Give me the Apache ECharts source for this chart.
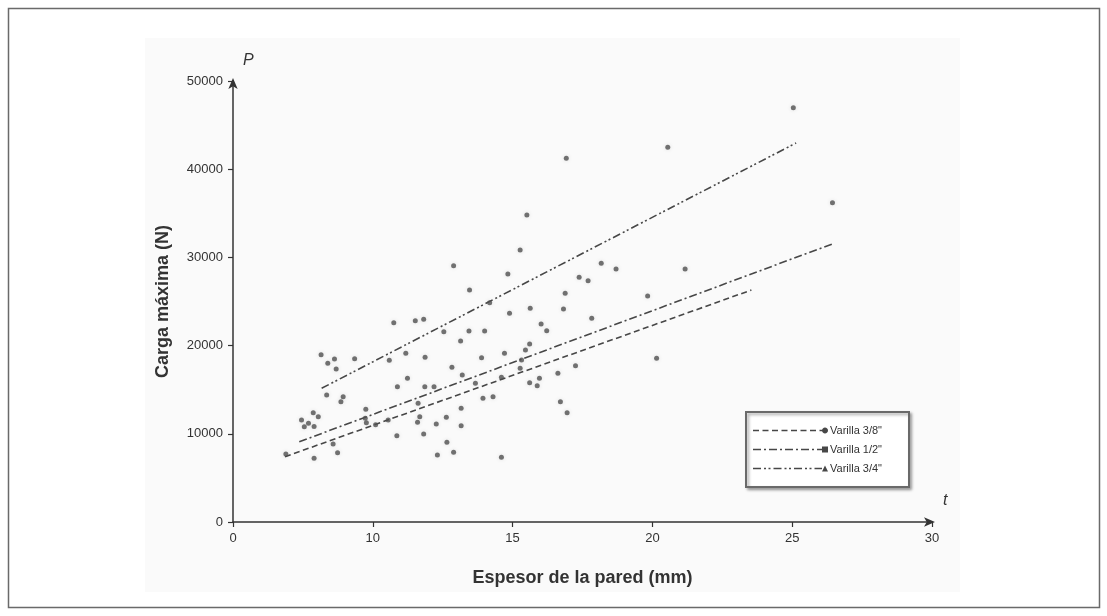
<!DOCTYPE html>
<html>
<head>
<meta charset="utf-8">
<script src="https://cdn.jsdelivr.net/npm/echarts@6/dist/echarts.min.js"></script>
<style>
html,body{margin:0;padding:0;background:#fff;}
#chart{width:1107px;height:616px;}
</style>
</head>
<body>
<div id="chart"></div>
<script>
// ---- Data (x values on the drawn axis scale, where the first tick is labelled "0") ----
const xTickValues = [5, 10, 15, 20, 25, 30];
const xTickLabels = ['0', '10', '15', '20', '25', '30'];
const yTickLabels = ['0', '10000', '20000', '30000', '40000', '50000'];

const pointT = [25.04, 26.44, 20.55, 16.92, 15.51, 15.27, 12.89, 14.83, 17.38, 17.70,
  18.17, 18.70, 21.17, 16.88, 19.83, 20.15, 10.75, 11.52, 11.82, 12.54,
  11.18, 11.87, 10.59, 8.15, 8.63, 8.39, 9.35, 8.69, 11.24, 10.88,
  13.46, 14.18, 14.89, 13.44, 14.00, 13.14, 14.71, 13.89, 12.83, 8.35,
  8.94, 8.86, 9.75, 7.87, 8.05, 7.45, 7.55, 7.70, 7.90, 10.55,
  9.77, 10.10, 10.86, 11.60, 11.68, 11.82, 12.27, 12.63, 13.16, 13.16,
  12.65, 12.31, 12.89, 14.60, 7.90, 8.74, 8.58, 6.89, 14.30, 13.94,
  13.67, 9.73, 11.62, 15.63, 16.82, 17.83, 16.02, 16.22, 15.61, 15.46,
  15.32, 14.60, 13.20, 15.61, 15.96, 17.25, 16.62, 15.88, 15.27, 16.71,
  16.95, 11.86, 12.19];
const pointP = [46970, 36200, 42480, 41240, 34810, 30840, 29060, 28120, 27740, 27360,
  29330, 28690, 28690, 25930, 25620, 18560, 22600, 22820, 22980, 21580,
  19130, 18670, 18330, 18970, 18480, 17990, 18520, 17350, 16290, 15340,
  26300, 24860, 23660, 21660, 21660, 20520, 19130, 18630, 17540, 14400,
  14210, 13640, 12780, 12390, 11940, 11560, 10800, 11200, 10840, 11570,
  11260, 11040, 9790, 11300, 11940, 9980, 11110, 11870, 10920, 12890,
  9040, 7600, 7900, 7340, 7220, 7860, 8840, 7710, 14210, 14020,
  15730, 11760, 13460, 24230, 24150, 23100, 22450, 21690, 20180, 19500,
  18370, 16410, 16670, 15790, 16290, 17720, 16860, 15450, 17430, 13640,
  12390, 15340, 15340];

const seriesNames = ['Varilla 3/8"', 'Varilla 1/2"', 'Varilla 3/4"'];
const fitT38 = [6.86, 23.54];
const fitP38 = [7400, 26300];
const fitT12 = [7.37, 26.43];
const fitP12 = [9100, 31520];
const fitT34 = [8.17, 25.14];
const fitP34 = [15160, 42970];

// ---- Helpers ----
const ink = '#474747';
function zip(a, b) { return a.map((v, i) => [v, b[i]]); }

// legend icon: dash pattern + marker at the right end, as a filled path (75 x 6 box)
function legendPath(pattern, marker) {
  const end = 69, y0 = 3.25, y1 = 4.75;
  let d = '';
  let x = 0, i = 0;
  while (x < end) {
    const len = pattern[i % pattern.length];
    const on = i % 2 === 0;
    const x2 = Math.min(end, x + len);
    if (on && x2 > x) d += `M${x},${y0}L${x2},${y0}L${x2},${y1}L${x},${y1}Z`;
    x += len; i++;
  }
  if (marker === 'circle') {
    let p = '';
    for (let k = 0; k < 16; k++) {
      const a = k / 16 * Math.PI * 2;
      p += (k === 0 ? 'M' : 'L') + (72 + 3 * Math.cos(a)).toFixed(2) + ',' + (4 + 3 * Math.sin(a)).toFixed(2);
    }
    d += p + 'Z';
  } else if (marker === 'square') {
    d += 'M69,1L75,1L75,7L69,7Z';
  } else {
    d += 'M72,1L75,7L69,7Z';
  }
  d += 'M0,1L0.01,1L0.01,1.01Z';
  return 'path://' + d;
}

const dash38 = [6, 3.5];
const dash12 = [8, 3, 2, 3];
const dash34 = [8, 3, 2, 2.5, 2, 3];

const chart = echarts.init(document.getElementById('chart'), null, { renderer: 'canvas' });

function fitSeries(name, ts, ps, dash) {
  return {
    name: name,
    type: 'line',
    data: zip(ts, ps),
    symbol: 'none',
    silent: true,
    z: 3,
    itemStyle: { color: ink },
    lineStyle: { color: ink, width: 1.6, type: dash }
  };
}

const option = {
  backgroundColor: '#ffffff',
  animation: false,
  textStyle: { fontFamily: 'Liberation Sans, Arial, sans-serif' },
  graphic: [
    { type: 'rect', z: -10, shape: { x: 8.5, y: 8.5, width: 1091, height: 599 },
      style: { fill: '#ffffff', stroke: '#6a6a6a', lineWidth: 1.5 } },
    { type: 'rect', z: -9, shape: { x: 145, y: 38, width: 815, height: 554 },
      style: { fill: '#fafafa', stroke: null } },
    { type: 'text', left: 243, top: 53, z: 10,
      style: { text: 'P', fill: '#333', font: 'italic 16px "Liberation Sans", Arial, sans-serif' } },
    { type: 'text', left: 943, top: 493, z: 10,
      style: { text: 't', fill: '#333', font: 'italic 16px "Liberation Sans", Arial, sans-serif' } }
  ],
  grid: { left: 233, top: 81, right: 175, bottom: 94, containLabel: false },
  legend: {
    orient: 'vertical',
    left: 746,
    top: 412,
    padding: [13, 27, 13, 7],
    itemGap: 8,
    itemWidth: 75,
    itemHeight: 6,
    backgroundColor: '#ffffff',
    borderColor: '#6a6a6a',
    borderWidth: 2,
    borderRadius: 0,
    shadowBlur: 3,
    shadowColor: 'rgba(0,0,0,0.35)',
    shadowOffsetX: 2,
    shadowOffsetY: 2,
    selectedMode: false,
    itemStyle: { color: ink, borderWidth: 0 },
    textStyle: { fontSize: 11, color: '#333', padding: [0, 0, 0, -3] },
    data: [
      { name: seriesNames[0], icon: legendPath(dash38, 'circle') },
      { name: seriesNames[1], icon: legendPath(dash12, 'square') },
      { name: seriesNames[2], icon: legendPath(dash34, 'triangle') }
    ]
  },
  xAxis: {
    type: 'value',
    min: 5,
    max: 30,
    interval: 5,
    name: 'Espesor de la pared (mm)',
    nameLocation: 'middle',
    nameGap: 47,
    nameTextStyle: { fontSize: 18, fontWeight: 'bold', color: '#333' },
    axisLine: { show: true, onZero: false, symbol: ['none', 'arrow'], symbolSize: [7, 11], symbolOffset: [0, 3],
      lineStyle: { color: '#333', width: 1.5 } },
    axisTick: { show: true, inside: false, length: 5, lineStyle: { color: '#333', width: 1.2 } },
    axisLabel: { margin: 10, fontSize: 13, color: '#333',
      formatter: v => { const i = xTickValues.indexOf(v); return i >= 0 ? xTickLabels[i] : ''; } },
    splitLine: { show: false }
  },
  yAxis: {
    type: 'value',
    min: 0,
    max: 50000,
    interval: 10000,
    name: 'Carga máxima (N)',
    nameLocation: 'middle',
    nameGap: 61,
    nameRotate: 90,
    nameTextStyle: { fontSize: 18, fontWeight: 'bold', color: '#333' },
    axisLine: { show: true, onZero: false, symbol: ['none', 'arrow'], symbolSize: [7, 11], symbolOffset: [0, 3],
      lineStyle: { color: '#333', width: 1.5 } },
    axisTick: { show: true, inside: false, length: 5, lineStyle: { color: '#333', width: 1.2 } },
    axisLabel: { margin: 10, fontSize: 13, color: '#333',
      formatter: v => { const i = Math.round(v / 10000); return yTickLabels[i] !== undefined ? yTickLabels[i] : ''; } },
    splitLine: { show: false }
  },
  series: [
    fitSeries(seriesNames[0], fitT38, fitP38, dash38),
    fitSeries(seriesNames[1], fitT12, fitP12, dash12),
    fitSeries(seriesNames[2], fitT34, fitP34, dash34),
    {
      name: 'Ensayos',
      type: 'scatter',
      data: zip(pointT, pointP),
      symbol: 'circle',
      symbolSize: 5,
      z: 4,
      silent: true,
      itemStyle: { color: '#505050', shadowBlur: 4, shadowColor: 'rgba(0,0,0,0.15)' }
    }
  ]
};
chart.setOption(option);
</script>
</body>
</html>
